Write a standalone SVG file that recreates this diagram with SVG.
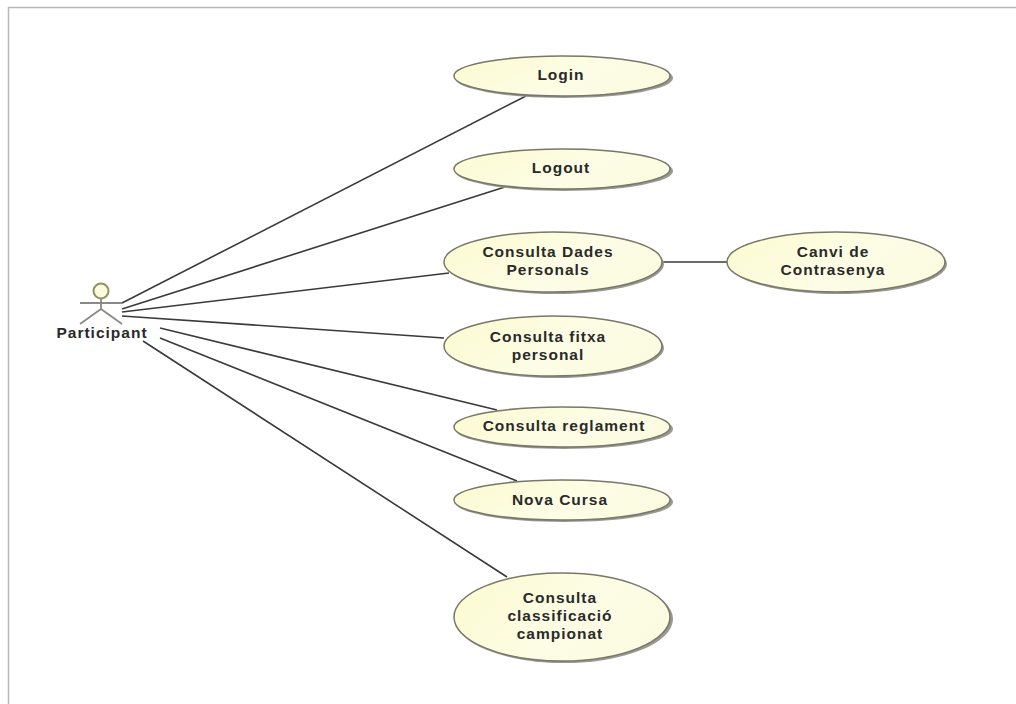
<svg xmlns="http://www.w3.org/2000/svg" width="1016" height="704" viewBox="0 0 1016 704">
<defs>
<linearGradient id="ucFill" x1="0" y1="0.2" x2="1" y2="0.6">
<stop offset="0" stop-color="#fbfbd2"/>
<stop offset="0.6" stop-color="#fdfde6"/>
<stop offset="1" stop-color="#fbfbe0"/>
</linearGradient>
<filter id="soft" x="-5%" y="-10%" width="110%" height="120%"><feGaussianBlur stdDeviation="0.7"/></filter>
</defs>
<style>
.uc{fill:url(#ucFill);stroke:#77776a;stroke-width:1.5}
.sh{fill:#999990;filter:url(#soft)}
.t{font-family:"Liberation Sans",Arial,sans-serif;font-size:15.5px;font-weight:bold;letter-spacing:1px;fill:#2a2a2a;text-anchor:middle}
.c{stroke:#3a3a3a;stroke-width:1.6;fill:none}
.a{stroke:#8a8a84;stroke-width:1.8;fill:none}
</style>
<rect width="1016" height="704" fill="#fff"/>
<path d="M8.5 704V7.5H1016" fill="none" stroke="#b8b8b8" stroke-width="1.5"/>
<g id="connectors">
<path class="c" d="M122 303L526 96"/>
<path class="c" d="M122 309L508 186"/>
<path class="c" d="M122 312L449 273"/>
<path class="c" d="M122 316L444 338"/>
<path class="c" d="M160 328L497 410"/>
<path class="c" d="M160 338L517 481"/>
<path class="c" d="M143 341L507 577"/>
<path class="c" d="M662 262L727 262"/>
</g>
<g id="actor-participant">
<circle cx="101" cy="291" r="7.5" fill="#fbfbe0" stroke="#8f9160" stroke-width="2"/>
<path class="a" d="M101 299V309M80 303H122M101 309L80 324M101 309L122 324"/>
<text class="t" x="102" y="338">Participant</text>
</g>
<g id="uc-login">
<ellipse class="sh" cx="564" cy="78" rx="109" ry="20"/>
<ellipse class="uc" cx="562" cy="76" rx="108" ry="20"/>
<text class="t" x="561" y="80">Login</text>
</g>
<g id="uc-logout">
<ellipse class="sh" cx="564" cy="171" rx="109" ry="20"/>
<ellipse class="uc" cx="562" cy="169" rx="108" ry="20"/>
<text class="t" x="561" y="173">Logout</text>
</g>
<g id="uc-dades">
<ellipse class="sh" cx="555" cy="264" rx="109" ry="30"/>
<ellipse class="uc" cx="553" cy="262" rx="109" ry="30"/>
<text class="t" x="548" y="257">Consulta Dades</text>
<text class="t" x="548" y="275">Personals</text>
</g>
<g id="uc-contrasenya">
<ellipse class="sh" cx="838" cy="264" rx="109" ry="30"/>
<ellipse class="uc" cx="836" cy="262" rx="109" ry="30"/>
<text class="t" x="833" y="257">Canvi de</text>
<text class="t" x="833" y="275">Contrasenya</text>
</g>
<g id="uc-fitxa">
<ellipse class="sh" cx="555" cy="348" rx="109" ry="30"/>
<ellipse class="uc" cx="553" cy="346" rx="109" ry="30"/>
<text class="t" x="548" y="342">Consulta fitxa</text>
<text class="t" x="548" y="360">personal</text>
</g>
<g id="uc-reglament">
<ellipse class="sh" cx="564" cy="429" rx="109" ry="20"/>
<ellipse class="uc" cx="562" cy="427" rx="108" ry="20"/>
<text class="t" x="564" y="431">Consulta reglament</text>
</g>
<g id="uc-cursa">
<ellipse class="sh" cx="564" cy="502" rx="109" ry="20"/>
<ellipse class="uc" cx="562" cy="500" rx="108" ry="20"/>
<text class="t" x="560" y="505">Nova Cursa</text>
</g>
<g id="uc-classificacio">
<ellipse class="sh" cx="564" cy="619" rx="109" ry="44"/>
<ellipse class="uc" cx="562" cy="617" rx="108" ry="44"/>
<text class="t" x="560" y="603">Consulta</text>
<text class="t" x="560" y="621">classificació</text>
<text class="t" x="560" y="639">campionat</text>
</g>
</svg>
